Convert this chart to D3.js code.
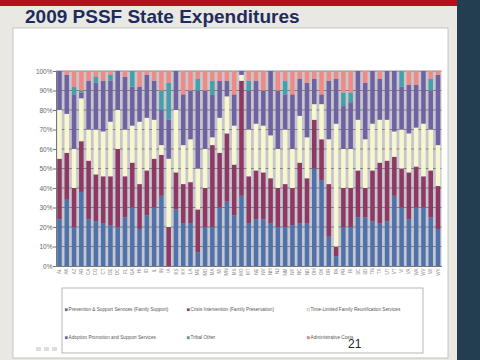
<!DOCTYPE html>
<html><head><meta charset="utf-8">
<script src="https://cdn.jsdelivr.net/npm/d3@7"></script>
<style>body{margin:0;background:#e9e8e3;overflow:hidden}svg{display:block}</style>
</head><body><svg id="c" width="480" height="360"></svg>
<script>
const states = ["AL","AK","AZ","AR","CA","CO","CT","DE","DC","FL","GA","HI","ID","IL","IN","IA","KS","KY","LA","ME","MD","MA","MI","MN","MS","MO","MT","NE","NV","NH","NJ","NM","NY","NC","ND","OH","OK","OR","PA","PR","RI","SC","SD","TN","TX","UT","VT","VI","VA","WA","WV","WI","WY"];
const prevention    = [24,34,20,38,24,23,22,21,20,25,30,19,26,30,36, 0,29,22,22, 7,20,20,30,33,26,36,22,24,24,22,20,20,21,22,22,50,44,15, 5,20,20,25,25,23,22,23,36,30,24,30,30,25,19];
const crisis        = [31,24,20,26,30,24,24,25,40,21,23,23,23,25,21,20,19,20,21,22,20,42,28,35,26,59,24,25,24,23,20,22,19,31,23,25,21,27, 5,20,20,24,15,26,31,31,20,20,24,21,16,24,22];
const reunification = [25,20,20,22,16,23,23,28,20,24,19,32,27,20, 5,35,32,20,22,21,20, 4,18,19,20, 3,24,24,24,22,20,28,20,24,21, 8,18,23,63,20,20,26,25,24,22,21,13,20,20,20,27,21,21];
const adoption      = [20,20,28, 3,25,24,26,21,20,27,20,18,22,20,18,20,20,26,25,40,30,22,19, 8,16, 2,20,22,18,33,30,18,28,19,28,13, 5,30,23,22,24,25,29,27,21,25,31,22,25,22,27,20,36];
const tribal        = [ 0, 0, 4, 1, 0, 3, 0, 3, 0, 0, 8, 0, 0, 0,10,19, 0, 0, 0, 6, 0, 7, 0, 0, 0, 0, 5, 0, 0, 0, 0, 7, 0, 0, 0, 0, 0, 0, 0, 7, 5, 0, 0, 0, 0, 0, 0, 8, 0, 0, 0, 6, 0];
const adminCosts    = [ 0, 2, 8,10, 5, 3, 5, 2, 0, 3, 0, 8, 2, 5,10, 6, 0,12,10, 4,10, 5, 5, 5,12, 0, 5, 5,10, 0,10, 5,12, 4, 6, 4,12, 5, 4,11,11, 0, 6, 0, 4, 0, 0, 0, 7, 7, 0, 4, 2];
const seriesNames = ["Prevention & Support Services (Family Support)","Crisis Intervention (Family Preservation)","Time-Limited Family Reunification Services","Adoption Promotion and Support Services","Tribal Other","Administrative Costs"];
const seriesColors = ["#5072ab","#8e3862","#f8f6cf","#7062a0","#45a0aa","#f08a84"];
const yTicks = [0,10,20,30,40,50,60,70,80,90,100];

const svg = d3.select("#c");
const FONT = "Arial, 'Liberation Sans', sans-serif";
// slide chrome
svg.append("rect").attr("x",0).attr("y",0).attr("width",480).attr("height",360).attr("fill","#e9e8e3");
svg.append("rect").attr("x",0).attr("y",0).attr("width",457).attr("height",6).attr("fill","#b3121c");
svg.append("rect").attr("x",457).attr("y",0).attr("width",23).attr("height",360).attr("fill","#233e51");
svg.append("text").attr("x",25).attr("y",23).attr("font-family",FONT)
  .attr("font-weight","bold").attr("font-size",19).attr("fill","#1f2b5c").text("2009 PSSF State Expenditures");
svg.append("rect").attr("x",13).attr("y",28).attr("width",435).attr("height",330).attr("fill","#fff").attr("stroke","#b8b8b8").attr("stroke-width",0.8);

const x = d3.scaleBand().domain(states).range([56,441.5]).paddingInner(0.38).paddingOuter(0.17);
const y = d3.scaleLinear().domain([0,100]).range([266,71]);

// plot area
svg.append("rect").attr("x",56).attr("y",y(100)).attr("width",385.5).attr("height",y(0)-y(100)).attr("fill","#c6c6ce");
svg.append("g").selectAll("line").data(yTicks.filter(d=>d>0)).join("line")
  .attr("x1",56).attr("x2",441.5).attr("y1",d=>y(d)).attr("y2",d=>y(d)).attr("stroke","#5e5e66").attr("stroke-width",0.7);

const table = states.map((s,i)=>({state:s,s0:prevention[i],s1:crisis[i],s2:reunification[i],s3:adoption[i],s4:tribal[i],s5:adminCosts[i]}));
const keys = ["s0","s1","s2","s3","s4","s5"];
const stack = d3.stack().keys(keys).offset(d3.stackOffsetExpand)(table);
svg.append("g").selectAll("g").data(stack).join("g").attr("fill",(d,i)=>seriesColors[i])
  .selectAll("rect").data(d=>d).join("rect")
  .attr("x",d=>x(d.data.state)).attr("width",x.bandwidth())
  .attr("y",d=>y(d[1]*100)).attr("height",d=>Math.max(0,y(d[0]*100)-y(d[1]*100)));

// axes
const ya = d3.axisLeft(y).tickValues(yTicks).tickFormat(d=>d+"%").tickSize(3);
const gy = svg.append("g").attr("transform","translate(56,0)").call(ya);
gy.select(".domain").attr("stroke","#777");
gy.selectAll(".tick line").attr("stroke","#777");
gy.selectAll("text").attr("font-family",FONT).attr("font-size",6.5).attr("fill","#666").attr("x",-3.5);
const xa = d3.axisBottom(x).tickSize(0);
const gx = svg.append("g").attr("transform","translate(0,266)").call(xa);
gx.select(".domain").attr("stroke","#777");
gx.selectAll("text").attr("font-family",FONT).attr("font-size",4.5).attr("fill","#888")
  .attr("transform","rotate(-90)").attr("text-anchor","end").attr("dy","0.35em").attr("x",-2.5).attr("y",0);

// legend
svg.append("rect").attr("x",62).attr("y",288).attr("width",361).attr("height",65).attr("fill","#fff").attr("stroke","#999").attr("stroke-width",0.7);
const legPos = [[65,311],[187,311],[307,311],[65,339],[187,339],[307,339]];
const lg = svg.append("g").selectAll("g").data(seriesNames).join("g").attr("transform",(d,i)=>`translate(${legPos[i][0]},${legPos[i][1]})`);
lg.append("rect").attr("x",0).attr("y",-2.6).attr("width",2.6).attr("height",2.6).attr("fill",(d,i)=>seriesColors[i]).attr("stroke","#888").attr("stroke-width",0.3);
lg.append("text").attr("x",3.6).attr("y",0).attr("font-family",FONT).attr("font-size",4.7).attr("fill","#555").text(d=>d);

svg.append("text").attr("x",348).attr("y",348).attr("font-family",FONT).attr("font-size",12).attr("fill","#222").text("21");
// faint nav icons
svg.append("g").attr("fill","#ddd").selectAll("rect").data([36,44,52]).join("rect").attr("x",d=>d).attr("y",347).attr("width",5).attr("height",4);
</script></body></html>
